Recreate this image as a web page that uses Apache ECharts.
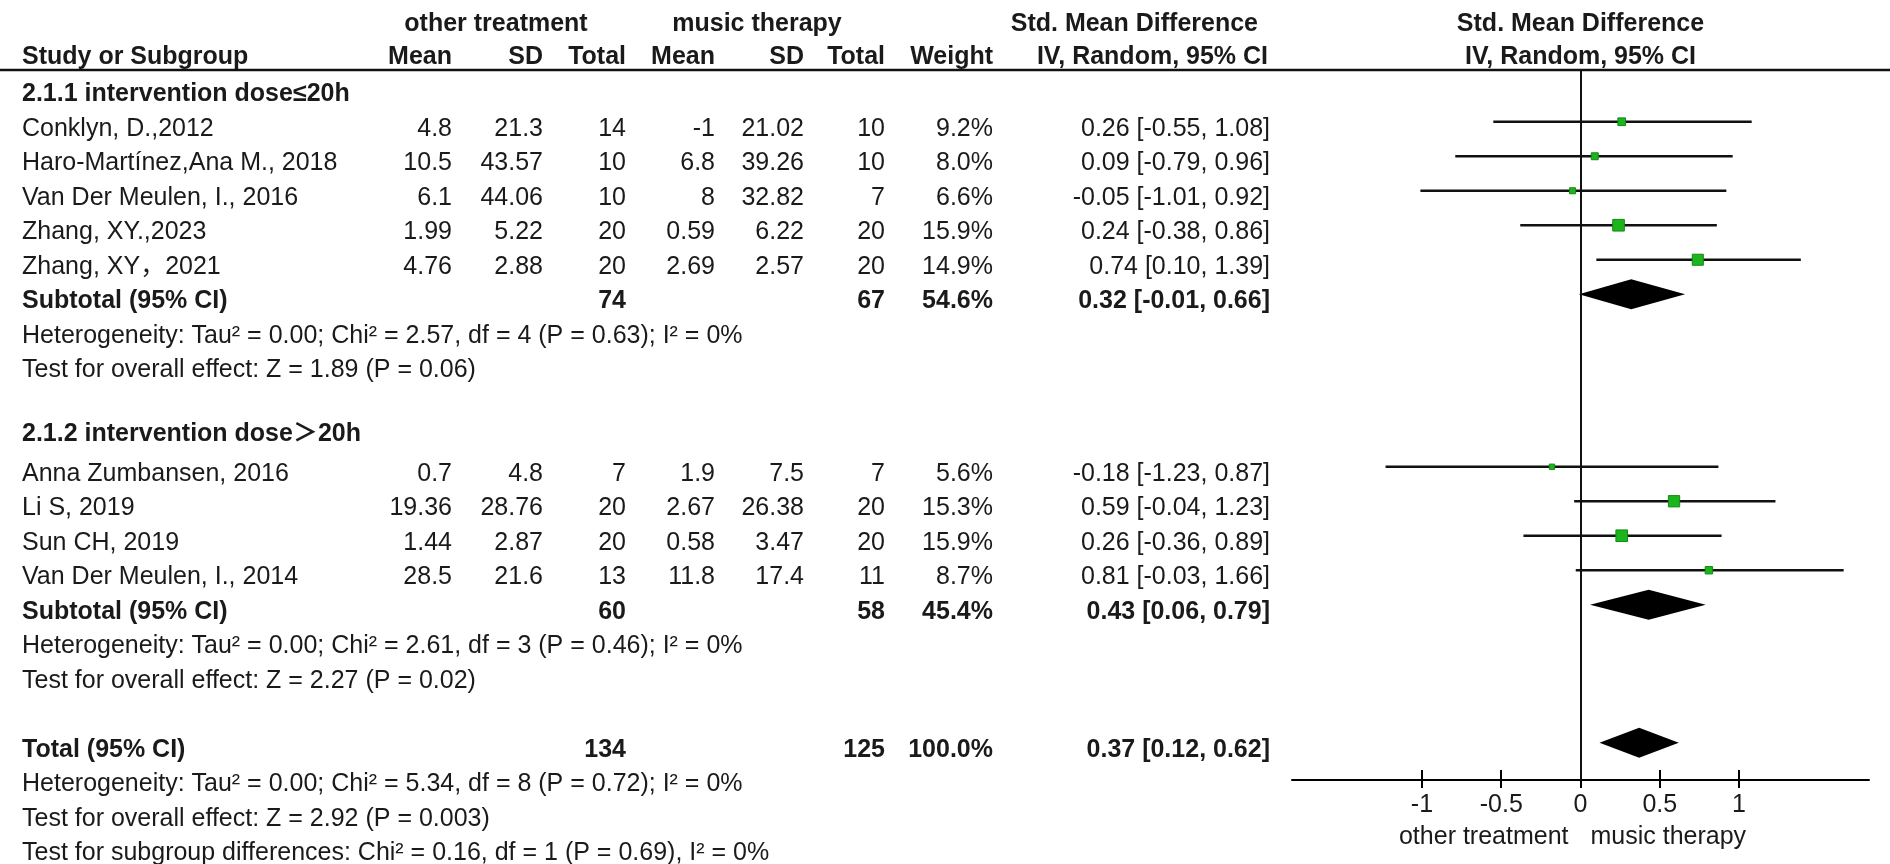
<!DOCTYPE html>
<html>
<head>
<meta charset="utf-8">
<title>Forest plot</title>
<script src="https://cdn.jsdelivr.net/npm/echarts@6/dist/echarts.min.js"></script>
<style>
  html, body { margin: 0; padding: 0; background: #fff; }
  #main { width: 1890px; height: 864px; }
</style>
</head>
<body>
<div id="main"></div>
<script>
// ---- data ----
var studies = ['Conklyn, D.,2012', 'Haro-Martínez,Ana M., 2018', 'Van Der Meulen, I., 2016',
  'Zhang, XY.,2023', 'Zhang, XY，2021', 'Anna Zumbansen, 2016', 'Li S, 2019', 'Sun CH, 2019',
  'Van Der Meulen, I., 2014'];
var otherMean = [4.8, 10.5, 6.1, 1.99, 4.76, 0.7, 19.36, 1.44, 28.5];
var otherSD = [21.3, 43.57, 44.06, 5.22, 2.88, 4.8, 28.76, 2.87, 21.6];
var otherN = [14, 10, 10, 20, 20, 7, 20, 20, 13];
var musicMean = [-1, 6.8, 8, 0.59, 2.69, 1.9, 2.67, 0.58, 11.8];
var musicSD = [21.02, 39.26, 32.82, 6.22, 2.57, 7.5, 26.38, 3.47, 17.4];
var musicN = [10, 10, 7, 20, 20, 7, 20, 20, 11];
var weight = [9.2, 8.0, 6.6, 15.9, 14.9, 5.6, 15.3, 15.9, 8.7];
var smd = [0.26, 0.09, -0.05, 0.24, 0.74, -0.18, 0.59, 0.26, 0.81];
var lower = [-0.55, -0.79, -1.01, -0.38, 0.10, -1.23, -0.04, -0.36, -0.03];
var upper = [1.08, 0.96, 0.92, 0.86, 1.39, 0.87, 1.23, 0.89, 1.66];

var pooledLabels = ['Subtotal (95% CI)', 'Subtotal (95% CI)', 'Total (95% CI)'];
var pooledOtherN = [74, 60, 134];
var pooledMusicN = [67, 58, 125];
var pooledWeight = [54.6, 45.4, 100.0];
var pooledSmd = [0.32, 0.43, 0.37];
var pooledLower = [-0.01, 0.06, 0.12];
var pooledUpper = [0.66, 0.79, 0.62];

var groupTitles = ['2.1.1 intervention dose≤20h', '2.1.2 intervention dose＞20h'];
var statLines = [
  'Heterogeneity: Tau² = 0.00; Chi² = 2.57, df = 4 (P = 0.63); I² = 0%',
  'Test for overall effect: Z = 1.89 (P = 0.06)',
  'Heterogeneity: Tau² = 0.00; Chi² = 2.61, df = 3 (P = 0.46); I² = 0%',
  'Test for overall effect: Z = 2.27 (P = 0.02)',
  'Heterogeneity: Tau² = 0.00; Chi² = 5.34, df = 8 (P = 0.72); I² = 0%',
  'Test for overall effect: Z = 2.92 (P = 0.003)',
  'Test for subgroup differences: Chi² = 0.16, df = 1 (P = 0.69), I² = 0%'
];
var tickValues = [-1, -0.5, 0, 0.5, 1];

// ---- layout (row slots, columns) ----
var studyRow = [1, 2, 3, 4, 5, 11, 12, 13, 14];
var pooledRow = [6, 15, 19];
var groupRow = [0, 9.85];
var statRow = [7, 8, 16, 17, 20, 21, 22];
var markShift = -0.21;

var FONT = '25px "Liberation Sans", Arial, "Noto Sans CJK SC", sans-serif';
var BOLD = 'bold ' + FONT;
var INK = '#1a1a1a';

var myChart = echarts.init(document.getElementById('main'));

var ciData = studies.map(function (s, i) { return [lower[i], upper[i], studyRow[i] + markShift]; });
var boxData = studies.map(function (s, i) { return [smd[i], studyRow[i] + markShift, weight[i]]; });
var diamondData = pooledSmd.map(function (v, i) { return [pooledLower[i], pooledUpper[i], pooledRow[i] + markShift, v]; });

var option = {
  backgroundColor: '#fff',
  animation: false,
  grid: { left: 1292, right: 21, top: 70, bottom: 84 },
  xAxis: [
    {
      type: 'value', min: -1.82, max: 1.82, position: 'bottom',
      axisLine: { show: true, onZero: false, lineStyle: { color: '#000', width: 2 } },
      axisTick: { show: true, inside: false, length: 8, customValues: tickValues, lineStyle: { color: '#000', width: 2 } },
      axisLabel: { show: true, margin: 13, customValues: tickValues, color: INK, fontSize: 25, fontFamily: '"Liberation Sans", Arial' },
      splitLine: { show: false }
    },
    {
      type: 'value', min: -1.82, max: 1.82, position: 'bottom',
      axisLine: { show: false, onZero: false },
      axisTick: { show: true, inside: true, length: 10, customValues: tickValues, lineStyle: { color: '#000', width: 2 } },
      axisLabel: { show: false },
      splitLine: { show: false }
    }
  ],
  yAxis: {
    type: 'value', inverse: true, min: -0.71, max: 19.87, show: false
  },
  series: [
    {
      // confidence intervals
      type: 'custom',
      renderItem: function (params, api) {
        var a = api.coord([api.value(0), api.value(2)]);
        var b = api.coord([api.value(1), api.value(2)]);
        return {
          type: 'line',
          shape: { x1: a[0], y1: a[1], x2: b[0], y2: b[1] },
          style: { stroke: '#111', lineWidth: 2.5 }
        };
      },
      data: ciData,
      z: 2,
      markLine: {
        silent: true, symbol: 'none',
        label: { show: false },
        lineStyle: { color: '#111', width: 2, type: 'solid' },
        data: [{ xAxis: 0 }]
      }
    },
    {
      type: 'scatter',
      symbol: 'rect',
      symbolSize: function (d) { return 1.46 * Math.pow(d[2], 0.75); },
      itemStyle: { color: '#1db51d', borderColor: '#138a13', borderWidth: 1, opacity: 1 },
      data: boxData,
      z: 3
    },
    {
      // pooled diamonds
      type: 'custom',
      renderItem: function (params, api) {
        var l = api.coord([api.value(0), api.value(2)]);
        var r = api.coord([api.value(1), api.value(2)]);
        var c = api.coord([api.value(3), api.value(2)]);
        var h = 15;
        return {
          type: 'polygon',
          shape: { points: [[l[0], l[1]], [c[0], c[1] - h], [r[0], r[1]], [c[0], c[1] + h]] },
          style: { fill: '#000' }
        };
      },
      data: diamondData,
      z: 3
    }
  ]
};

myChart.setOption(option);

// ---- table text ----
function rowY(k) { return myChart.convertToPixel({ yAxisIndex: 0 }, k); }
var zeroX = myChart.convertToPixel({ xAxisIndex: 0 }, 0);
var g = [];
function txt(s, x, y, align, bold) {
  g.push({ type: 'text', x: x, y: y, silent: true,
    style: { text: s, font: bold ? BOLD : FONT, fill: INK, align: align, verticalAlign: 'middle' } });
}
var col = { study: 22, m1: 452, sd1: 543, n1: 626, m2: 715, sd2: 804, n2: 885, w: 993, ci: 1270 };

// headers
txt('other treatment', 496, rowY(-2.03), 'center', true);
txt('music therapy', 757, rowY(-2.03), 'center', true);
txt('Std. Mean Difference', 1258, rowY(-2.03), 'right', true);
txt('Std. Mean Difference', zeroX, rowY(-2.03), 'center', true);
txt('Study or Subgroup', col.study, rowY(-1.09), 'left', true);
txt('Mean', col.m1, rowY(-1.09), 'right', true);
txt('SD', col.sd1, rowY(-1.09), 'right', true);
txt('Total', col.n1, rowY(-1.09), 'right', true);
txt('Mean', col.m2, rowY(-1.09), 'right', true);
txt('SD', col.sd2, rowY(-1.09), 'right', true);
txt('Total', col.n2, rowY(-1.09), 'right', true);
txt('Weight', col.w, rowY(-1.09), 'right', true);
txt('IV, Random, 95% CI', 1268, rowY(-1.09), 'right', true);
txt('IV, Random, 95% CI', zeroX, rowY(-1.09), 'center', true);
g.push({ type: 'line', silent: true, shape: { x1: 0, y1: rowY(-0.71), x2: 1890, y2: rowY(-0.71) },
  style: { stroke: '#111', lineWidth: 2.5 } });

groupTitles.forEach(function (t, i) { txt(t, col.study, rowY(groupRow[i]), 'left', true); });

studies.forEach(function (s, i) {
  var y = rowY(studyRow[i]);
  txt(s, col.study, y, 'left', false);
  txt(String(otherMean[i]), col.m1, y, 'right', false);
  txt(String(otherSD[i]), col.sd1, y, 'right', false);
  txt(String(otherN[i]), col.n1, y, 'right', false);
  txt(String(musicMean[i]), col.m2, y, 'right', false);
  txt(String(musicSD[i]), col.sd2, y, 'right', false);
  txt(String(musicN[i]), col.n2, y, 'right', false);
  txt(weight[i].toFixed(1) + '%', col.w, y, 'right', false);
  txt(smd[i].toFixed(2) + ' [' + lower[i].toFixed(2) + ', ' + upper[i].toFixed(2) + ']', col.ci, y, 'right', false);
});

pooledLabels.forEach(function (s, i) {
  var y = rowY(pooledRow[i]);
  txt(s, col.study, y, 'left', true);
  txt(String(pooledOtherN[i]), col.n1, y, 'right', true);
  txt(String(pooledMusicN[i]), col.n2, y, 'right', true);
  txt(pooledWeight[i].toFixed(1) + '%', col.w, y, 'right', true);
  txt(pooledSmd[i].toFixed(2) + ' [' + pooledLower[i].toFixed(2) + ', ' + pooledUpper[i].toFixed(2) + ']', col.ci, y, 'right', true);
});

statLines.forEach(function (s, i) { txt(s, col.study, rowY(statRow[i]), 'left', false); });

// favours labels under the axis
txt('other treatment', zeroX - 12, 837, 'right', false);
txt('music therapy', zeroX + 10, 837, 'left', false);

myChart.setOption({ graphic: g });
</script>
</body>
</html>
